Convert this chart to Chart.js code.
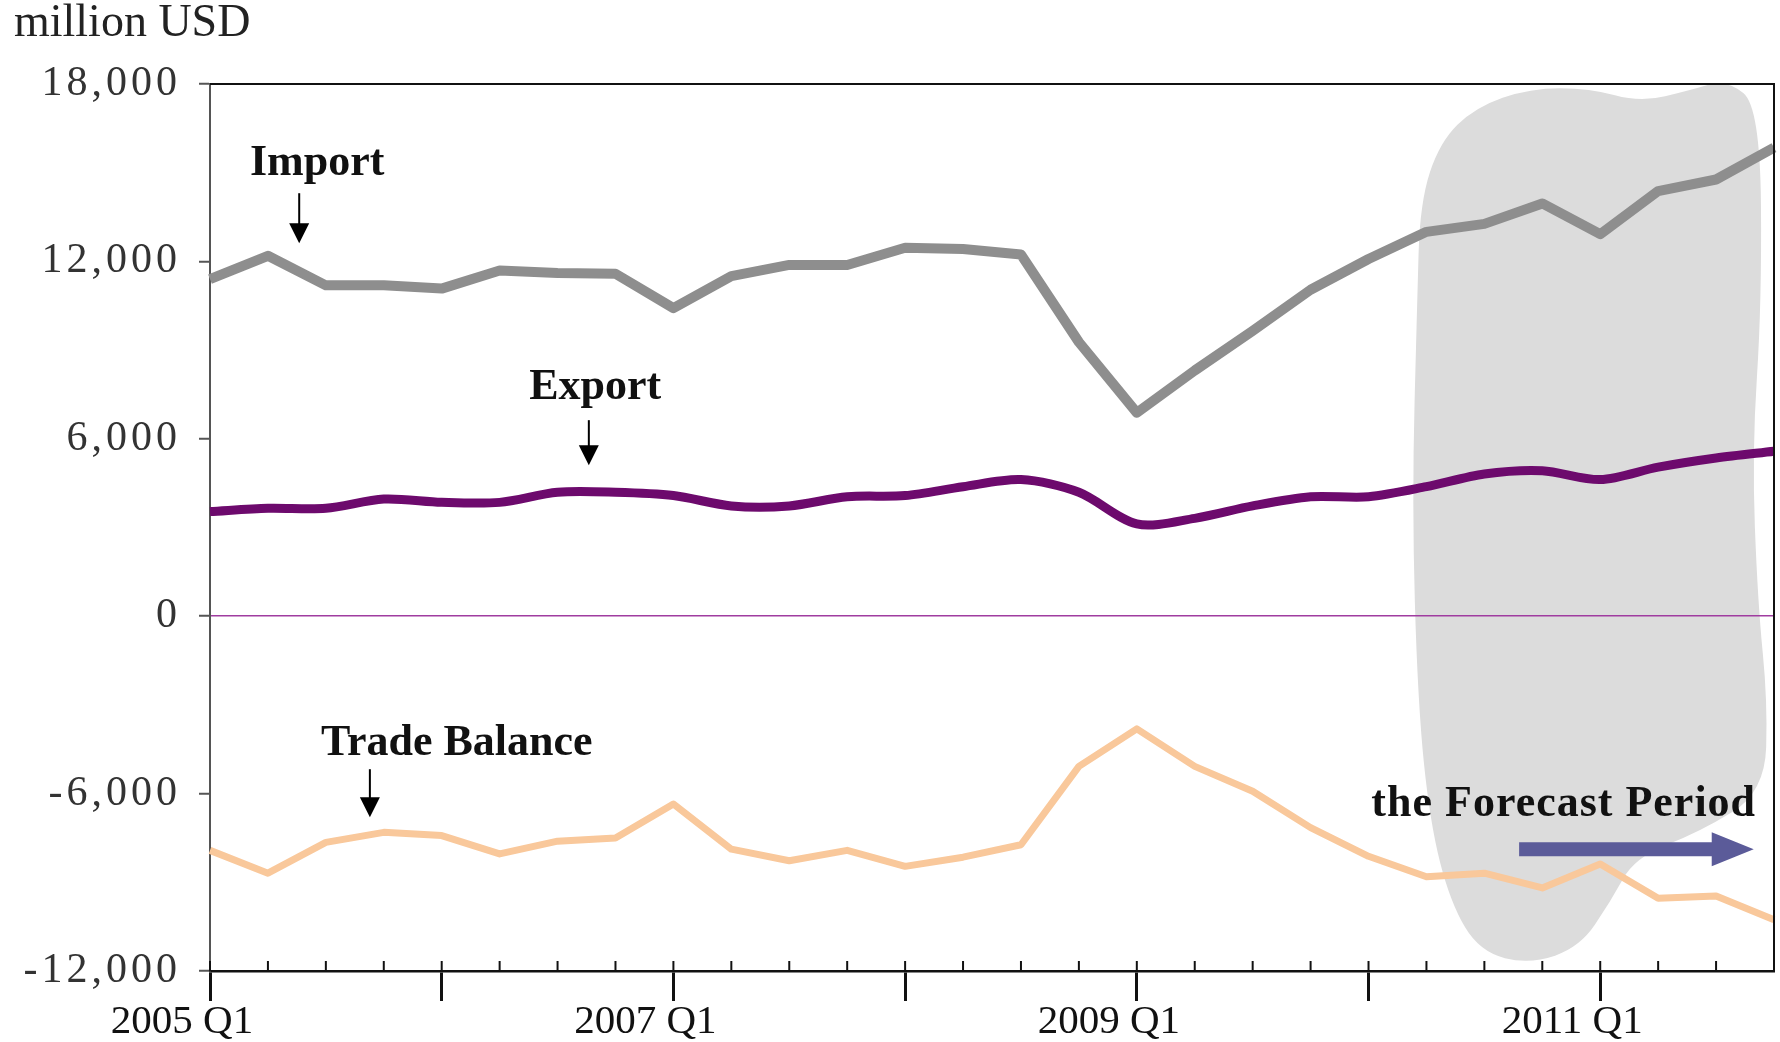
<!DOCTYPE html>
<html>
<head>
<meta charset="utf-8">
<script src="https://cdn.jsdelivr.net/npm/chart.js@4.4.1/dist/chart.umd.min.js"></script>
<style>
  html, body { margin: 0; padding: 0; background: #fff; }
  #wrap { width: 1780px; height: 1042px; position: relative; }
</style>
</head>
<body>
<div id="wrap"><canvas id="tradeChart"></canvas></div>
<script>
// quarterly trade, million USD
const quarters = [
  '2005 Q1', '2005 Q2', '2005 Q3', '2005 Q4',
  '2006 Q1', '2006 Q2', '2006 Q3', '2006 Q4',
  '2007 Q1', '2007 Q2', '2007 Q3', '2007 Q4',
  '2008 Q1', '2008 Q2', '2008 Q3', '2008 Q4',
  '2009 Q1', '2009 Q2', '2009 Q3', '2009 Q4',
  '2010 Q1', '2010 Q2', '2010 Q3', '2010 Q4',
  '2011 Q1', '2011 Q2', '2011 Q3', '2011 Q4'
];
const labeledQuarters = ['2005 Q1', '2007 Q1', '2009 Q1', '2011 Q1'];

const importValues = [11400, 12190, 11190, 11190, 11080, 11690, 11610, 11580,
  10420, 11500, 11880, 11880, 12460, 12420, 12230, 9270,
  6880, 8310, 9650, 11040, 12080, 13000, 13270, 13960,
  12920, 14380, 14770, 15850];
const exportValues = [3540, 3650, 3650, 3960, 3850, 3850, 4190, 4190,
  4080, 3730, 3730, 4040, 4080, 4380, 4620, 4190,
  3120, 3310, 3730, 4040, 4040, 4380, 4810, 4920,
  4620, 5040, 5350, 5580];
const balanceValues = [-7920, -8690, -7650, -7310, -7420, -8040, -7610, -7500,
  -6350, -7880, -8270, -7920, -8460, -8150, -7730, -5080,
  -3810, -5080, -5920, -7150, -8120, -8810, -8690, -9190,
  -8380, -9540, -9460, -10270];
const yTicks = [-12000, -6000, 0, 6000, 12000, 18000];

// shaded forecast area outline, in (quarter index, value)
const forecastShade = [
  [20.84, 10620], [20.89, 14000], [21.23, 16030], [21.84, 17210], [22.79, 17860],
  [23.82, 17860], [24.69, 17380], [25.55, 17790], [26.19, 18160], [26.76, 17210],
  [26.79, 10620], [26.62, 5550], [26.72, 470], [26.89, -2910], [26.84, -5950],
  [25.72, -7300], [24.60, -8150], [24.17, -9670], [23.65, -11190], [22.79, -11770],
  [21.92, -11360], [21.41, -9670], [21.06, -6970], [20.85, -2910], [20.75, 3860]
];

// series labels with arrows: text anchor and arrow (x, from, to)
const notes = [
  { text: 'Import', x: 1.85, y: 14915, arrowX: 1.54, from: 14306, to: 12615 },
  { text: 'Export', x: 6.65, y: 7340, arrowX: 6.54, from: 6630, to: 5107 },
  { text: 'Trade Balance', x: 4.26, y: -4700, arrowX: 2.76, from: -5175, to: -6800 }
];
const forecastNote = { text: 'the Forecast Period', x: 23.37, y: -6764, arrowFrom: 22.6, arrowTo: 26.65, arrowY: -7880 };

const serif = '"Liberation Serif", "Times New Roman", serif';

function smoothClosed(ctx, pts) {
  const n = pts.length;
  const mid = (a, b) => [(a[0] + b[0]) / 2, (a[1] + b[1]) / 2];
  const start = mid(pts[n - 1], pts[0]);
  ctx.moveTo(start[0], start[1]);
  for (let k = 0; k < n; k++) {
    const p = pts[k];
    const m = mid(p, pts[(k + 1) % n]);
    ctx.quadraticCurveTo(p[0], p[1], m[0], m[1]);
  }
  ctx.closePath();
}

function downArrow(ctx, x, y0, y1) {
  ctx.strokeStyle = '#000';
  ctx.fillStyle = '#000';
  ctx.lineWidth = 2;
  ctx.beginPath();
  ctx.moveTo(x, y0);
  ctx.lineTo(x, y1 - 16);
  ctx.stroke();
  ctx.beginPath();
  ctx.moveTo(x - 10, y1 - 20);
  ctx.lineTo(x + 10, y1 - 20);
  ctx.lineTo(x, y1);
  ctx.closePath();
  ctx.fill();
}

const decorPlugin = {
  id: 'decor',
  beforeDraw(chart) {
    const { ctx, scales: { x, y } } = chart;
    ctx.save();
    ctx.fillStyle = '#fff';
    ctx.fillRect(0, 0, chart.width, chart.height);
    ctx.fillStyle = '#dcdcdc';
    ctx.beginPath();
    smoothClosed(ctx, forecastShade.map(p => [x.getPixelForValue(p[0]), y.getPixelForValue(p[1])]));
    ctx.fill();
    ctx.restore();
    // wider tracking for the value labels (the y labels are drawn before the datasets)
    ctx.letterSpacing = '4px';
  },
  beforeDatasetsDraw(chart) {
    chart.ctx.letterSpacing = '0px';
  },
  afterDatasetsDraw(chart) {
    const { ctx, chartArea: area, scales: { x, y } } = chart;
    ctx.save();

    // frame top and right
    ctx.strokeStyle = '#111';
    ctx.lineWidth = 2;
    ctx.beginPath();
    ctx.moveTo(area.left, area.top);
    ctx.lineTo(area.right, area.top);
    ctx.lineTo(area.right, area.bottom);
    ctx.stroke();

    // small upward ticks on the time axis
    ctx.lineWidth = 2;
    quarters.forEach((q, i) => {
      const px = x.getPixelForValue(i);
      ctx.beginPath();
      ctx.moveTo(px, area.bottom);
      ctx.lineTo(px, area.bottom - 10);
      ctx.stroke();
    });

    // unit label
    ctx.fillStyle = '#222';
    ctx.font = '46px ' + serif;
    ctx.textAlign = 'left';
    ctx.textBaseline = 'alphabetic';
    ctx.fillText('million USD', 14, 36);

    // series notes
    ctx.font = 'bold 44px ' + serif;
    ctx.textAlign = 'center';
    notes.forEach(n => {
      ctx.fillStyle = '#111';
      ctx.fillText(n.text, x.getPixelForValue(n.x), y.getPixelForValue(n.y));
      downArrow(ctx, x.getPixelForValue(n.arrowX), y.getPixelForValue(n.from), y.getPixelForValue(n.to));
    });

    // forecast note and arrow
    ctx.fillStyle = '#111';
    ctx.letterSpacing = '1px';
    ctx.fillText(forecastNote.text, x.getPixelForValue(forecastNote.x), y.getPixelForValue(forecastNote.y));
    ctx.letterSpacing = '0px';
    const ax0 = x.getPixelForValue(forecastNote.arrowFrom);
    const ax1 = x.getPixelForValue(forecastNote.arrowTo);
    const ay = y.getPixelForValue(forecastNote.arrowY);
    ctx.fillStyle = '#5b5b99';
    ctx.beginPath();
    ctx.moveTo(ax0, ay - 7);
    ctx.lineTo(ax1 - 42, ay - 7);
    ctx.lineTo(ax1 - 42, ay - 17);
    ctx.lineTo(ax1, ay);
    ctx.lineTo(ax1 - 42, ay + 17);
    ctx.lineTo(ax1 - 42, ay + 7);
    ctx.lineTo(ax0, ay + 7);
    ctx.closePath();
    ctx.fill();

    ctx.restore();
  }
};

const ctx = document.getElementById('tradeChart').getContext('2d');
new Chart(ctx, {
  type: 'line',
  data: {
    labels: quarters,
    datasets: [
      {
        label: 'Trade Balance',
        data: balanceValues,
        borderColor: '#f9c89b',
        borderWidth: 7,
        tension: 0,
        borderJoinStyle: 'round'
      },
      {
        label: 'Export',
        data: exportValues,
        borderColor: '#6d0a6d',
        borderWidth: 9,
        tension: 0.3,
        borderJoinStyle: 'round'
      },
      {
        label: 'Import',
        data: importValues,
        borderColor: '#8e8e8e',
        borderWidth: 10,
        tension: 0,
        borderJoinStyle: 'round'
      }
    ]
  },
  options: {
    responsive: true,
    maintainAspectRatio: false,
    animation: false,
    layout: { padding: { top: 84, right: 6, left: 0, bottom: 0 } },
    elements: { point: { radius: 0 } },
    plugins: {
      legend: { display: false },
      tooltip: { enabled: false }
    },
    scales: {
      x: {
        offset: false,
        grid: {
          drawOnChartArea: false,
          tickLength: 30,
          tickWidth: 3,
          tickColor: c => (c.index % 4 === 0 ? '#111' : 'rgba(0,0,0,0)')
        },
        border: { color: '#111', width: 2.5 },
        ticks: {
          z: 1,
          autoSkip: false,
          maxRotation: 0,
          labelOffset: -28,
          padding: -3,
          color: '#111',
          font: { family: serif, size: 41 },
          callback: function (value) {
            const q = this.getLabelForValue(value);
            return labeledQuarters.includes(q) ? q : '';
          }
        },
        afterFit: s => { s.height = 71; }
      },
      y: {
        min: -12000,
        max: 18000,
        afterBuildTicks: s => { s.ticks = yTicks.map(v => ({ value: v })); },
        grid: {
          color: c => (c.tick && c.tick.value === 0 ? '#a03ca0' : 'rgba(0,0,0,0)'),
          lineWidth: 1.5,
          tickColor: '#555',
          tickLength: 11,
          tickWidth: 2
        },
        border: { color: '#555', width: 2 },
        ticks: {
          padding: 18,
          color: '#333',
          font: { family: serif, size: 42 },
          callback: v => v.toLocaleString('en-US')
        },
        afterFit: s => { s.width = 210; }
      }
    }
  },
  plugins: [decorPlugin]
});
</script>
</body>
</html>
